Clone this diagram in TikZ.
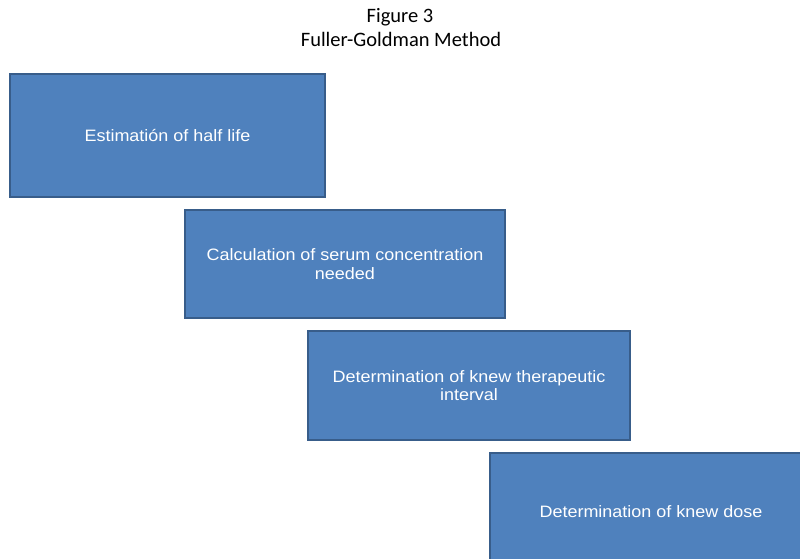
\documentclass[tikz,border=0pt]{standalone}
\usepackage{fontspec}
\setmainfont{Liberation Sans}
\newfontfamily\titlefont{Carlito}
\newfontfamily\boxfont[FakeStretch=1.09]{Liberation Sans}
\definecolor{boxblue}{RGB}{79,129,189}
\definecolor{boxedge}{RGB}{56,93,138}
\tikzset{
    stepbox/.style={draw=boxedge, line width=1.2pt, fill=boxblue, text=white,
        align=center, inner sep=0pt, font=\boxfont\fontsize{16.5}{18.5}\selectfont},
    titletext/.style={font=\titlefont\fontsize{20.5}{22}\selectfont},
}
\begin{document}
\begin{tikzpicture}[x=1pt, y=1pt]
    \useasboundingbox (0, 0) rectangle (800, 559);
    % Titre
    \node[titletext] (figure) at (400, 542) {Figure 3};
    \node[titletext] (method) at (401, 520) {Fuller-Goldman Method};

    % Etapes en escalier
    \node[stepbox, minimum width=315, minimum height=123] (halflife) at (167.5, 423.5)
        {Estimatión of half life};
    \node[stepbox, minimum width=320, minimum height=108] (serum) at (345, 295)
        {Calculation of serum concentration\\needed};
    \node[stepbox, minimum width=322, minimum height=109] (interval) at (469, 173.5)
        {Determination of knew therapeutic\\interval};
    % Derniere etape, coupee par le bord
    \node[stepbox, minimum width=322, minimum height=117] (dose) at (651, 47.5)
        {Determination of knew dose};
\end{tikzpicture}
\end{document}
